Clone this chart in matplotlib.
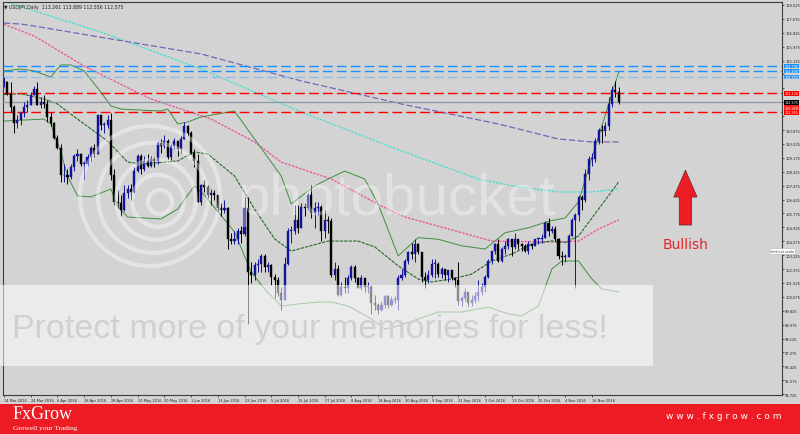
import matplotlib
matplotlib.use("Agg")
import matplotlib.pyplot as plt
import matplotlib.patches as mpatches
import matplotlib.transforms as mtransforms
import numpy as np
import pandas as pd

# USDJPY daily, 14 Mar 2016 - 28 Nov 2016 (Good Friday missing on this feed)
dates = [d for d in pd.bdate_range("2016-03-14", "2016-11-28") if d != pd.Timestamp("2016-03-25")]

opens = [113.8, 113.8, 113.1, 112.3, 111.3, 111.5, 111.9, 112.3, 112.4, 113.0, 113.4, 112.4, 112.6,
         112.5, 111.7, 111.3, 110.4, 109.8, 108.1, 108.1, 108.0, 108.6, 109.3, 109.4, 108.8, 108.8, 109.2,
         109.8, 109.4, 111.8, 111.2, 111.2, 111.5, 108.1,
         106.5, 106.4, 106.0, 107.0, 107.3, 107.1, 108.4, 109.3, 108.5, 109.0, 108.7, 109.1, 109.0, 110.1,
         109.9, 110.2, 109.2, 109.9, 110.2, 109.7, 110.3, 111.1,
         110.7, 109.5, 109.0, 106.5, 107.5, 107.4, 106.9, 107.0, 106.9, 106.1, 106.0, 106.1, 104.2, 104.1,
         104.2, 104.7, 104.5, 106.1, 102.2, 102.0, 102.6, 102.7,
         103.2, 102.5, 102.6, 101.9, 101.7, 100.9, 100.5, 102.7, 104.7, 104.7, 105.4, 104.9, 106.2, 106.1,
         106.9, 105.8, 106.1, 106.2, 104.7, 105.4, 105.3,
         102.0, 102.4, 100.8, 101.3, 101.2, 101.8, 102.5, 101.8, 101.2, 101.8, 101.3, 101.3, 100.3, 100.2,
         99.9, 100.2, 100.7, 100.2, 100.5, 100.5, 101.8, 102.0, 102.9,
         103.4, 103.3, 103.9, 103.4, 101.9, 101.7, 102.0, 102.7, 102.7, 102.1, 102.4, 102.0, 102.3, 101.8,
         101.7, 100.4, 100.6, 101.0, 100.3, 100.5, 100.7, 101.0,
         101.3, 101.9, 102.9, 103.5, 103.9, 102.9, 103.6, 103.8, 104.2, 103.7, 104.2, 103.9, 103.8, 103.5,
         103.9, 103.8, 104.2, 104.2, 104.3, 105.2, 104.7,
         104.8, 104.2, 103.2, 103.1, 103.1, 104.4, 105.4, 105.7, 106.8, 106.6, 108.2, 109.1, 109.1, 110.2,
         110.9, 110.8, 111.1, 112.5, 113.3, 113.2]
highs = [114.1, 113.9, 113.8, 112.4, 111.8, 112.0, 112.6, 112.7, 113.2, 113.6, 113.8, 112.9, 113.0,
         112.7, 112.0, 111.4, 110.6, 110.0, 108.8, 108.5, 108.8, 109.4, 109.7, 109.5, 109.0, 109.4, 109.9,
         110.0, 111.8, 111.8, 111.4, 111.8, 111.9, 108.5,
         107.2, 106.9, 107.5, 107.5, 107.6, 108.6, 109.4, 109.4, 109.3, 109.4, 109.3, 109.2, 110.2, 110.3,
         110.6, 110.3, 110.0, 110.4, 110.2, 110.5, 111.4, 111.2,
         110.8, 109.7, 109.4, 107.6, 107.8, 107.5, 107.3, 107.2, 106.9, 106.4, 106.6, 106.2, 104.6, 104.7,
         104.9, 105.0, 106.8, 106.8, 102.8, 102.8, 103.0, 103.3,
         103.3, 102.8, 102.7, 102.1, 101.9, 101.3, 103.1, 104.9, 105.0, 106.3, 106.3, 106.4, 106.4, 107.0,
         107.5, 106.5, 106.5, 106.3, 106.0, 105.6, 105.5,
         102.8, 102.6, 101.6, 101.9, 102.0, 102.6, 102.6, 101.9, 102.0, 101.8, 101.6, 101.4, 100.8, 100.3,
         100.4, 100.8, 100.8, 100.7, 100.7, 102.0, 102.4, 103.0, 103.5,
         104.0, 104.2, 104.0, 103.4, 102.2, 102.3, 103.0, 103.0, 102.8, 102.5, 102.4, 102.3, 102.3, 101.9,
         102.8, 100.7, 101.2, 101.0, 100.8, 101.0, 101.7, 101.5,
         102.0, 103.0, 103.5, 104.0, 104.2, 103.7, 104.1, 104.3, 104.2, 104.6, 104.2, 104.0, 103.9, 104.1,
         103.9, 104.2, 104.3, 104.5, 105.3, 105.5, 105.0,
         105.0, 104.3, 103.5, 103.3, 104.5, 105.5, 105.8, 106.9, 106.9, 108.5, 109.3, 109.5, 110.4, 111.0,
         111.2, 111.4, 112.9, 113.6, 113.9, 113.5]
lows = [113.5, 113.0, 112.0, 110.7, 111.0, 111.2, 111.7, 112.0, 112.4, 113.0, 112.4, 112.2, 112.2,
        111.4, 111.1, 110.3, 109.7, 107.7, 107.7, 107.6, 107.9, 108.4, 109.0, 108.7, 107.9, 108.7, 109.0,
        109.2, 109.4, 110.9, 110.7, 111.0, 107.8, 106.3,
        106.1, 105.6, 105.9, 106.7, 106.6, 107.0, 108.3, 108.2, 108.4, 108.6, 108.6, 108.6, 108.8, 109.5,
        109.8, 109.1, 109.0, 109.7, 109.3, 109.5, 110.3, 110.5,
        109.4, 108.6, 106.5, 106.3, 107.1, 106.7, 106.3, 106.6, 105.9, 105.6, 105.8, 103.6, 103.9, 103.9,
        103.9, 104.0, 104.4, 99.0, 101.5, 101.7, 102.2, 102.2,
        102.2, 102.2, 101.4, 100.6, 100.7, 99.9, 100.5, 102.6, 104.0, 104.5, 104.6, 104.9, 105.6, 106.0,
        105.5, 104.9, 105.7, 104.1, 104.3, 104.6, 101.9,
        101.7, 100.7, 100.7, 100.9, 100.9, 101.7, 101.6, 101.2, 101.1, 101.0, 100.9, 99.6, 99.9, 99.6,
        99.8, 100.0, 100.0, 100.1, 100.3, 99.9, 101.7, 101.9, 102.7,
        103.0, 102.8, 103.3, 101.6, 101.2, 101.5, 101.9, 101.8, 101.9, 101.8, 101.7, 101.6, 101.7, 101.3,
        100.2, 100.1, 100.4, 100.1, 100.1, 100.3, 100.4, 100.8,
        101.0, 101.8, 102.7, 103.3, 102.8, 102.8, 103.3, 103.6, 103.2, 103.6, 103.6, 103.5, 103.4, 103.3,
        103.6, 103.8, 103.9, 104.0, 104.3, 104.4, 104.6,
        104.1, 103.0, 102.6, 102.8, 103.1, 104.4, 101.2, 105.3, 106.0, 106.5, 107.8, 108.7, 108.9, 110.0,
        110.1, 110.5, 110.9, 112.3, 112.9, 112.5]
closes = [113.8, 113.1, 112.3, 111.3, 111.5, 111.9, 112.3, 112.4, 113.0, 113.4, 112.4, 112.6, 112.5,
          111.7, 111.3, 110.4, 109.8, 108.1, 108.1, 108.0, 108.6, 109.3, 109.4, 108.8, 108.8, 109.2, 109.8,
          109.4, 111.8, 111.2, 111.2, 111.5, 108.1, 106.5,
          106.4, 106.0, 107.0, 107.3, 107.1, 108.4, 109.3, 108.5, 109.0, 108.7, 109.1, 109.0, 110.1, 109.9,
          110.2, 109.2, 109.9, 110.2, 109.7, 110.3, 111.1, 110.7,
          109.5, 109.0, 106.5, 107.5, 107.4, 106.9, 107.0, 106.9, 106.1, 106.0, 106.1, 104.2, 104.1, 104.2,
          104.7, 104.5, 106.1, 102.2, 102.0, 102.6, 102.7, 103.2,
          102.5, 102.6, 101.9, 101.7, 100.9, 100.5, 102.7, 104.7, 104.7, 105.4, 104.9, 106.2, 106.1, 106.9,
          105.8, 106.1, 106.2, 104.7, 105.4, 105.3, 102.0,
          102.4, 100.8, 101.3, 101.2, 101.8, 102.5, 101.8, 101.2, 101.8, 101.3, 101.3, 100.3, 100.2, 99.9,
          100.2, 100.7, 100.2, 100.5, 100.5, 101.8, 102.0, 102.9, 103.4,
          103.3, 103.9, 103.4, 101.9, 101.7, 102.0, 102.7, 102.7, 102.1, 102.4, 102.0, 102.3, 101.8, 101.7,
          100.4, 100.6, 101.0, 100.3, 100.5, 100.7, 101.0, 101.3,
          101.9, 102.9, 103.5, 103.9, 102.9, 103.6, 103.8, 104.2, 103.7, 104.2, 103.9, 103.8, 103.5, 103.9,
          103.8, 104.2, 104.2, 104.3, 105.2, 104.7, 104.8,
          104.2, 103.2, 103.1, 103.1, 104.4, 105.4, 105.7, 106.8, 106.6, 108.2, 109.1, 109.1, 110.2, 110.9,
          110.8, 111.1, 112.5, 113.3, 113.2, 112.575]

# indicator lines (bar index, price)
ma_cyan_x = [0, 29, 59, 89, 119, 142, 154, 166, 176, 184]
ma_cyan_y = [118.75, 116.87, 114.61, 111.98, 109.60, 107.88, 107.40, 107.09, 107.09, 107.27]
ma_purple_x = [0, 5, 9, 32, 59, 89, 119, 148, 166, 176, 184]
ma_purple_y = [117.42, 117.36, 117.24, 116.45, 115.53, 113.88, 112.47, 111.25, 110.33, 110.15, 110.15]
ma_pink_x = [0, 9, 24, 39, 44, 62, 75, 83, 98, 113, 120, 133, 146, 166, 172, 178, 184]
ma_pink_y = [117.35, 116.63, 114.79, 113.27, 112.78, 111.55, 110.15, 108.92, 107.88, 106.23, 105.56,
             104.83, 104.09, 104.03, 104.09, 104.83, 105.38]

bb_upper_x = [0, 5, 9, 14, 17, 20, 24, 29, 32, 35, 47, 49, 52, 55, 59, 69, 75, 83, 86, 93, 97, 102,
              108, 112, 118, 124, 130, 137, 144, 150, 157, 163, 168, 172, 176, 180, 184]
bb_upper_y = [114.49, 114.61, 114.49, 114.12, 114.86, 114.86, 114.49, 113.20, 112.35, 112.16, 112.04,
              112.16, 111.25, 111.37, 111.68, 112.04, 110.33, 108.07, 106.36, 107.46, 107.88, 108.37,
              107.88, 106.36, 103.18, 104.30, 104.20, 103.80, 103.60, 104.60, 104.90, 105.30, 105.50,
              106.50, 109.20, 111.80, 114.40]
bb_mid_x = [0, 5, 12, 16, 22, 31, 37, 41, 52, 57, 61, 69, 75, 81, 86, 97, 106, 111, 118, 124, 128,
            134, 140, 146, 152, 158, 164, 168, 172, 176, 180, 184]
bb_mid_y = [113.05, 113.10, 112.78, 112.47, 111.55, 110.21, 108.92, 108.80, 108.99, 109.54, 109.41,
            108.07, 106.05, 104.22, 103.48, 104.09, 104.09, 103.73, 102.57, 101.77, 101.59, 101.77,
            102.07, 102.87, 103.30, 103.91, 104.10, 104.00, 104.40, 105.50, 106.60, 107.70]
bb_lower_x = [0, 12, 14, 17, 19, 22, 26, 32, 34, 37, 47, 52, 57, 60, 69, 74, 78, 83, 88, 94, 98, 103,
              110, 114, 118, 124, 130, 137, 145, 151, 155, 160, 164, 167, 172, 176, 179, 184]
bb_lower_y = [111.43, 111.55, 111.25, 109.54, 108.07, 106.85, 106.79, 107.27, 106.23, 105.56, 105.44,
              106.05, 107.46, 106.90, 104.65, 102.20, 101.16, 100.12, 100.24, 100.36, 100.36, 100.12,
              99.33, 98.71, 98.90, 99.33, 99.75, 99.75, 100.05, 99.63, 99.51, 100.12, 102.38, 102.87,
              102.87, 101.77, 101.16, 100.98]

blue_levels = [114.795, 114.490]
light_blue_level = 114.115
red_levels = [113.130, 111.955]
red_mark_level = 112.250

date_labels = ["14 Mar 2016", "24 Mar 2016", "6 Apr 2016", "18 Apr 2016", "28 Apr 2016", "10 May 2016",
               "20 May 2016", "1 Jun 2016", "13 Jun 2016", "23 Jun 2016", "5 Jul 2016", "15 Jul 2016",
               "27 Jul 2016", "8 Aug 2016", "18 Aug 2016", "30 Aug 2016", "9 Sep 2016", "21 Sep 2016",
               "3 Oct 2016", "13 Oct 2016", "25 Oct 2016", "4 Nov 2016", "16 Nov 2016"]
price_ticks = [118.525 - 0.85 * k for k in range(29)]

BG = "#d3d3d3"
BULL = "#14149a"
BEAR = "#000000"
SMALL = 2.6

fig = plt.figure(figsize=(8, 4.35), dpi=100, facecolor=BG)
ax = fig.add_axes([3 / 800, 39 / 435, 779 / 800, 393 / 435])
ax.set_facecolor(BG)
ax.set_xlim(-0.3, 232.9)
ax.set_ylim(94.676, 118.708)

# moving averages
ax.plot(ma_cyan_x, ma_cyan_y, color="#40e0d0", lw=0.9, ls=(0, (2, 1)), zorder=2)
ax.plot(ma_purple_x, ma_purple_y, color="#7466b8", lw=0.9, ls=(0, (5, 2)), zorder=2)
ax.plot(ma_pink_x, ma_pink_y, color="#f0509a", lw=0.9, ls=(0, (2, 1)), zorder=2)

# bollinger bands
ax.plot(bb_upper_x, bb_upper_y, color="#3f8f3f", lw=0.7, zorder=2)
ax.plot(bb_mid_x, bb_mid_y, color="#236b23", lw=0.8, ls=(0, (3, 1)), zorder=2)
ax.plot(bb_lower_x, bb_lower_y, color="#3f8f3f", lw=0.7, zorder=2)

# horizontal levels
for lv in blue_levels:
    ax.axhline(lv, color="#1e90ff", lw=1.0, ls=(0, (7, 3)), zorder=3)
ax.axhline(light_blue_level, color="#8dbde9", lw=1.0, ls=(0, (7, 3)), zorder=3)
for lv in red_levels:
    ax.axhline(lv, color="#ff0000", lw=1.0, ls=(0, (7, 3)), zorder=3)
ax.axhline(closes[-1], color="#8a97a3", lw=0.9, zorder=3)

# candles
x = np.arange(len(closes))
o, h, l, c = (np.array(v) for v in (opens, highs, lows, closes))
cols = np.where(c >= o, BULL, BEAR)
ax.vlines(x, l, h, colors=cols, lw=0.7, zorder=4)
body_lo = np.minimum(o, c)
body_h = np.maximum(np.abs(c - o), 0.05)
ax.bar(x, body_h, bottom=body_lo, width=0.62, color=cols, edgecolor=cols, lw=0.3, zorder=5)

# arrow + label
arr_x = 204
ax.add_patch(mpatches.Polygon([[arr_x, 108.43], [arr_x + 3.5, 106.78], [arr_x + 1.86, 106.78],
                               [arr_x + 1.86, 105.07], [arr_x - 1.86, 105.07], [arr_x - 1.86, 106.78],
                               [arr_x - 3.5, 106.78]],
                              closed=True, fc="#ee1c25", ec="#5a3030", lw=0.5, zorder=6))
ax.text(arr_x, 103.9, "Bullish", color="#e0262b", fontsize=10, ha="center", va="center", zorder=6)

# price boxes on the right scale (tick labels underneath them are hidden, like the terminal does)
boxes = [(blue_levels[0], "#1e90ff"), (blue_levels[1], "#1e90ff"), (light_blue_level, "#3a9af0"),
         (red_levels[0], "#ff0000"), (closes[-1], "#000000"), (red_mark_level, "#ff2020"),
         (red_levels[1], "#ff0000")]

# axes styling
tick_idx = [dates.index(pd.Timestamp(d)) for d in date_labels]
ax.set_xticks(tick_idx)
ax.set_xticklabels(date_labels)
for lbl in ax.get_xticklabels():
    lbl.set_ha("left")
ax.set_yticks(price_ticks)
ax.set_yticklabels(["" if any(abs(p - b) < 0.3 for b, _ in boxes) else f"{p:.3f}" for p in price_ticks])
ax.yaxis.tick_right()
ax.tick_params(axis="both", labelsize=SMALL, length=1.5, width=0.5, pad=0.8, colors="#202020")
for sp in ax.spines.values():
    sp.set_color("#3c3c3c")
    sp.set_linewidth(0.8)

tr = mtransforms.blended_transform_factory(ax.transAxes, ax.transData)
for val, colr in boxes:
    ax.text(1.003, val, f"{val:.3f}", transform=tr, fontsize=2.4, color="white", va="center", ha="left",
            bbox=dict(boxstyle="square,pad=0.1", fc=colr, ec="none"), clip_on=False, zorder=7)

# overlay in pixel space: watermark, header text, footer
ov = fig.add_axes([0, 0, 1, 1], zorder=10)
ov.set_xlim(0, 800)
ov.set_ylim(435, 0)
ov.axis("off")
ov.patch.set_alpha(0)

for r, dx in zip([70, 55, 40, 26, 12], [0, 3, 6, 8, 10]):
    ov.add_patch(mpatches.Circle((150 + dx, 197 + dx * 0.6), r, fill=False, ec="white", lw=3.0, alpha=0.4))
ov.text(237, 215, "photobucket", fontsize=42, family="Liberation Sans", color="white", alpha=0.35,
        va="baseline", ha="left")
ov.add_patch(mpatches.Rectangle((0, 286), 653, 81, fc="white", ec="none", alpha=0.55))
ov.text(12, 338, "Protect more of your memories for less!", fontsize=24.5, family="Liberation Sans",
        color="#d0d0d0", va="baseline", ha="left")

ov.text(4, 7, "\u25bc USDJPY,Daily  113.261 113.889 112.556 112.575", fontsize=3.3, color="#202020",
        va="center", ha="left")
ov.text(782, 252, "Vertical scale", fontsize=SMALL, color="#404040", va="center", ha="center",
        bbox=dict(boxstyle="square,pad=0.3", fc="white", ec="#b0b0b0", lw=0.4))

ov.add_patch(mpatches.Rectangle((0, 405), 800, 30, fc="#ed1c24", ec="none"))
ov.text(13, 419, "FxGrow", fontsize=13, family="Liberation Serif", color="white", va="baseline", ha="left")
ov.text(13, 430, "Growell your Trading", fontsize=5.3, family="Liberation Serif", color="white",
        va="baseline", ha="left")
ov.text(782, 417, "w w w . f x g r o w . c o m", fontsize=6.5, color="white", va="center", ha="right")

fig.savefig("out.png", dpi=100, facecolor=BG)
